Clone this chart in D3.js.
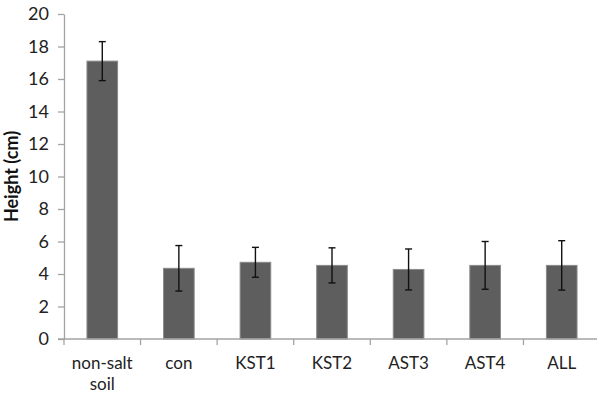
<!DOCTYPE html>
<html>
<head>
<meta charset="utf-8">
<script src="https://cdn.jsdelivr.net/npm/d3@7"></script>
<style>
  html, body { margin: 0; padding: 0; background: #ffffff; }
  svg { display: block; }
</style>
</head>
<body>
<svg id="chart" width="597" height="396"></svg>
<script>
const categories = ["non-salt soil", "con", "KST1", "KST2", "AST3", "AST4", "ALL"];
const heights = [17.1, 4.35, 4.72, 4.53, 4.28, 4.53, 4.53];
const errors = [1.2, 1.4, 0.92, 1.08, 1.26, 1.47, 1.52];
const yTicks = [0, 2, 4, 6, 8, 10, 12, 14, 16, 18, 20];
const yTitle = "Height (cm)";

(function () {
const svg = d3.select("#chart");
const mLeft = 64, mRight = 600, mTop = 14, mBottom = 339;
const font = "Lato, 'Liberation Sans', sans-serif";
const axisColor = "#a3a3a3";

const data = categories.map((c, i) => ({ cat: c, value: heights[i], err: errors[i] }));

const y = d3.scaleLinear().domain([0, 20]).range([mBottom, mTop]);
const xBar = d3.scaleBand().domain(categories).range([mLeft, mRight]).paddingInner(0.6).paddingOuter(0.3);
const xCell = d3.scaleBand().domain(categories).range([mLeft, mRight]);

// Y axis
const yAxis = svg.append("g")
  .attr("transform", `translate(${mLeft},0)`)
  .call(d3.axisLeft(y).tickValues(yTicks).tickSize(6).tickPadding(9).tickSizeOuter(0));
yAxis.select(".domain").attr("stroke", axisColor).attr("stroke-width", 1.3);
yAxis.selectAll(".tick line").attr("stroke", axisColor).attr("stroke-width", 1.3);
yAxis.selectAll(".tick text")
  .attr("fill", "#222222")
  .style("font-family", font)
  .style("font-size", "18px");

// Bars
svg.append("g").selectAll("rect")
  .data(data)
  .join("rect")
  .attr("x", d => xBar(d.cat))
  .attr("width", xBar.bandwidth())
  .attr("y", d => y(d.value))
  .attr("height", d => y(0) - y(d.value))
  .attr("fill", "#5e5e5e")
  .attr("stroke", "#8a8a8a")
  .attr("stroke-width", 1);

// X axis line and ticks
const xAxisG = svg.append("g");
xAxisG.append("line")
  .attr("x1", mLeft - 6).attr("x2", mRight)
  .attr("y1", y(0)).attr("y2", y(0))
  .attr("stroke", axisColor).attr("stroke-width", 1.3);
const boundaries = categories.map(c => xCell(c)).concat([xCell.range()[1]]);
xAxisG.selectAll("line.tick")
  .data(boundaries)
  .join("line")
  .attr("class", "tick")
  .attr("x1", d => d).attr("x2", d => d)
  .attr("y1", y(0)).attr("y2", y(0) + 6)
  .attr("stroke", axisColor).attr("stroke-width", 1.3);

// Error bars
const eb = svg.append("g").attr("stroke", "#111111").attr("stroke-width", 1.4);
data.forEach(d => {
  const cx = xBar(d.cat) + xBar.bandwidth() / 2;
  eb.append("line").attr("x1", cx).attr("x2", cx).attr("y1", y(d.value + d.err)).attr("y2", y(d.value - d.err));
  eb.append("line").attr("x1", cx - 3.5).attr("x2", cx + 3.5).attr("y1", y(d.value + d.err)).attr("y2", y(d.value + d.err));
  eb.append("line").attr("x1", cx - 3.5).attr("x2", cx + 3.5).attr("y1", y(d.value - d.err)).attr("y2", y(d.value - d.err));
});

// Category labels
const labels = svg.append("g")
  .style("font-family", font)
  .style("font-size", "17px")
  .attr("fill", "#222222")
  .attr("text-anchor", "middle");
data.forEach(d => {
  const cx = xBar(d.cat) + xBar.bandwidth() / 2;
  const words = d.cat === "non-salt soil" ? ["non-salt", "soil"] : [d.cat];
  const t = labels.append("text").attr("x", cx).attr("y", 369);
  words.forEach((w, i) => {
    t.append("tspan").attr("x", cx).attr("dy", i === 0 ? 0 : 21).text(w);
  });
});

// Y title
svg.append("text")
  .attr("transform", `translate(18,${(mTop + mBottom) / 2}) rotate(-90)`)
  .attr("text-anchor", "middle")
  .style("font-family", font)
  .style("font-size", "18px")
  .style("font-weight", "bold")
  .attr("fill", "#111111")
  .text(yTitle);
})();
</script>
</body>
</html>
